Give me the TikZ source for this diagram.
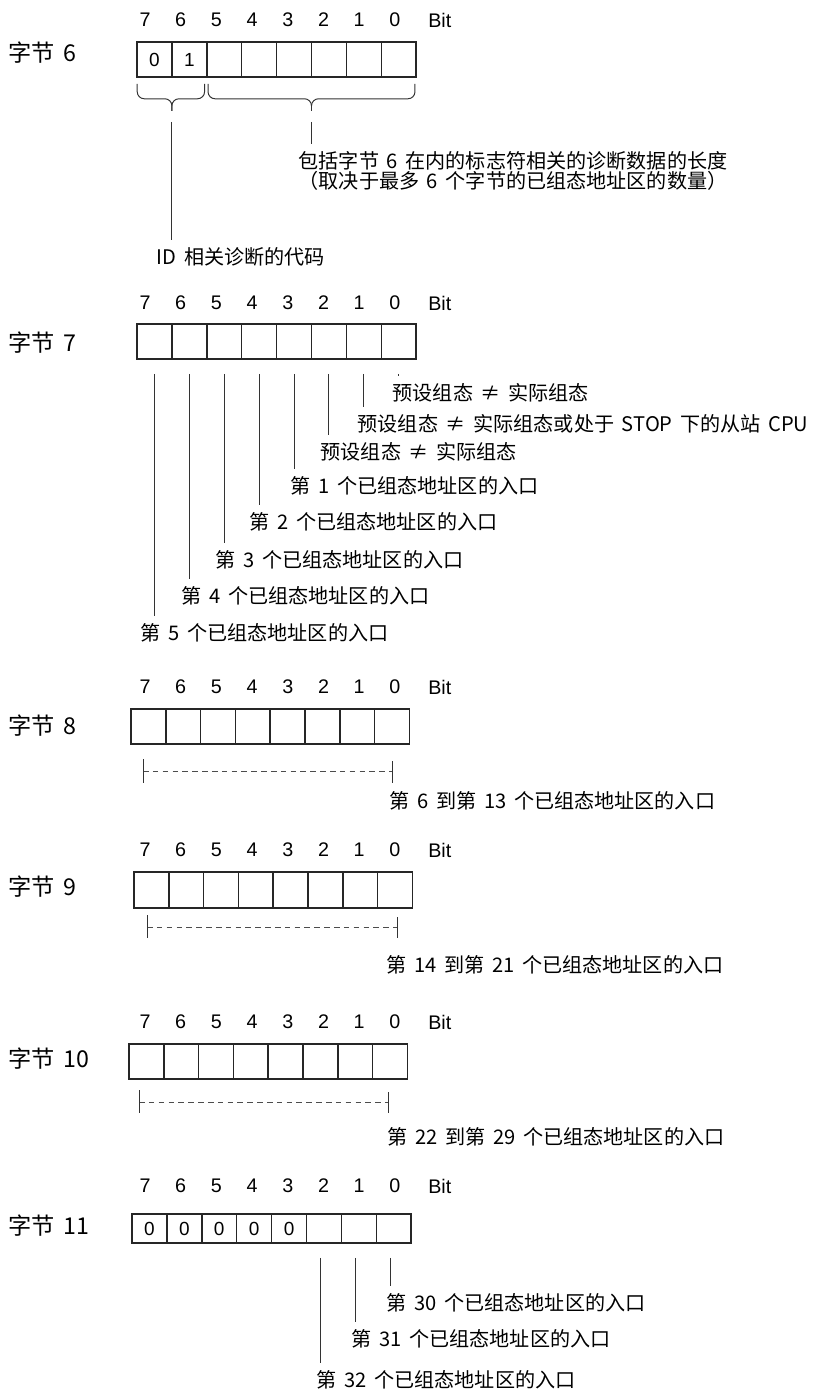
\documentclass[tikz,border=0pt]{standalone}
\usepackage{fontspec}
\setmainfont{Noto Sans CJK SC}[WordSpace=1.7]
\newfontfamily\latinfont{Liberation Sans}
\usetikzlibrary{calc}

\begin{document}
\begin{tikzpicture}[
  x=0.025cm, y=-0.025cm,
  cell/.style   = {draw=black!85, line width=1.1pt, inner sep=0pt,
                   minimum width=0.8725cm, minimum height=0.875cm,
                   font=\latinfont\fontsize{13.5}{14}\selectfont},
  bitno/.style  = {inner sep=0pt, font=\latinfont\fontsize{14}{15}\selectfont},
  bytelbl/.style= {anchor=west, inner sep=0pt, font=\fontsize{16.5}{18}\selectfont},
  note/.style   = {anchor=west, inner sep=1pt, font=\fontsize{14.3}{13.9}\selectfont},
  tick/.style   = {draw=black!80, line width=0.7pt},
  lead/.style   = {tick, shorten >=4pt},
  dim/.style    = {draw=black!70, line width=0.7pt, dash pattern=on 4pt off 3pt},
]
\useasboundingbox (0,0) rectangle (817,1391);

% ========== Byte 6 ==========
\foreach \b [count=\k from 0] in {7,...,0}
  \node[bitno] (r6b\b) at (145+35.7*\k, 20) {\b};
\node[bitno, anchor=west] (r6bit) at (428, 20) {Bit};
\node[bytelbl] (lbl6) at (8, 53) {字节 6};
\foreach \b/\v [count=\k from 0] in {7/0,6/1,5/,4/,3/,2/,1/,0/}
  \node[cell] (c6b\b) at (137+17.45+34.9*\k, 59.5) {\v};

% braces under the cells
\coordinate (tip1) at ($(c6b7.south west)!0.5!(c6b6.south east)+(0,33)$);
\coordinate (tip2) at ($(c6b5.south west)!0.5!(c6b0.south east)+(0,33)$);
\draw[tick, rounded corners=5pt] ($(c6b7.south west)+(1,6)$) |- ($(tip1)+(0,-12)$) -- (tip1);
\draw[tick, rounded corners=5pt] ($(c6b6.south east)+(-3,6)$) |- ($(tip1)+(0,-12)$) -- (tip1);
\draw[tick, rounded corners=5pt] ($(c6b5.south west)+(2,6)$) |- ($(tip2)+(0,-12)$) -- (tip2);
\draw[tick, rounded corners=5pt] ($(c6b0.south east)+(-2,6)$) |- ($(tip2)+(0,-12)$) -- (tip2);

\node[note, align=left, anchor=north west] (len6) at (297, 150)
  {包括字节 6 在内的标志符相关的诊断数据的长度\\（取决于最多 6 个字节的已组态地址区的数量）};
\node[note] (id6) at (155, 257) {ID 相关诊断的代码};
\draw[lead] ($(tip2)+(0,11)$) -- (tip2 |- len6.north);
\draw[lead] ($(tip1)+(0,11)$) -- (tip1 |- id6.north);

% ========== Byte 7 ==========
\foreach \b [count=\k from 0] in {7,...,0}
  \node[bitno] (r7b\b) at (145+35.7*\k, 303) {\b};
\node[bitno, anchor=west] (r7bit) at (428, 303) {Bit};
\node[bytelbl] (lbl7) at (8, 343) {字节 7};
\foreach \b [count=\k from 0] in {7,...,0}
  \node[cell] (c7b\b) at (137+17.45+34.9*\k, 341.5) {};

\node[note] (t7b0) at (391, 393) {预设组态 ≠ 实际组态};
\node[note] (t7b1) at (356, 424) {预设组态 ≠ 实际组态或处于 STOP 下的从站 CPU};
\node[note] (t7b2) at (319, 452) {预设组态 ≠ 实际组态};
\node[note] (t7b3) at (289, 486) {第 1 个已组态地址区的入口};
\node[note] (t7b4) at (248, 522) {第 2 个已组态地址区的入口};
\node[note] (t7b5) at (214, 560) {第 3 个已组态地址区的入口};
\node[note] (t7b6) at (180, 596) {第 4 个已组态地址区的入口};
\node[note] (t7b7) at (139, 633) {第 5 个已组态地址区的入口};
\foreach \b in {0,...,7}
  \draw[lead] ($(c7b\b.south)+(0,14)$) -- (c7b\b.south |- t7b\b.north);

% ========== Byte 8 ==========
\foreach \b [count=\k from 0] in {7,...,0}
  \node[bitno] (r8b\b) at (145+35.7*\k, 687) {\b};
\node[bitno, anchor=west] (r8bit) at (428, 687) {Bit};
\node[bytelbl] (lbl8) at (8, 726) {字节 8};
\foreach \b [count=\k from 0] in {7,...,0}
  \node[cell] (c8b\b) at (131+17.45+34.8*\k, 726.5) {};

\coordinate (d8l) at (143, 771);
\coordinate (d8r) at (392, 771);
\draw[dim] (d8l) -- (d8r);
\draw[tick] ($(d8l)+(0,-12)$) -- ($(d8l)+(0,12)$);
\draw[tick] ($(d8r)+(0,-10)$) -- ($(d8r)+(0,12)$);
\node[note] (t8) at (388, 801) {第 6 到第 13 个已组态地址区的入口};

% ========== Byte 9 ==========
\foreach \b [count=\k from 0] in {7,...,0}
  \node[bitno] (r9b\b) at (145+35.7*\k, 850) {\b};
\node[bitno, anchor=west] (r9bit) at (428, 850) {Bit};
\node[bytelbl] (lbl9) at (8, 887) {字节 9};
\foreach \b [count=\k from 0] in {7,...,0}
  \node[cell, minimum height=0.9cm] (c9b\b) at (134+17.45+34.8*\k, 890) {};

\coordinate (d9l) at (147, 927);
\coordinate (d9r) at (397, 927);
\draw[dim] (d9l) -- (d9r);
\draw[tick] ($(d9l)+(0,-12)$) -- ($(d9l)+(0,11)$);
\draw[tick] ($(d9r)+(0,-10)$) -- ($(d9r)+(0,11)$);
\node[note] (t9) at (385, 965) {第 14 到第 21 个已组态地址区的入口};

% ========== Byte 10 ==========
\foreach \b [count=\k from 0] in {7,...,0}
  \node[bitno] (r10b\b) at (145+35.7*\k, 1022) {\b};
\node[bitno, anchor=west] (r10bit) at (428, 1022) {Bit};
\node[bytelbl] (lbl10) at (8, 1059) {字节 10};
\foreach \b [count=\k from 0] in {7,...,0}
  \node[cell] (c10b\b) at (129+17.45+34.8*\k, 1061.5) {};

\coordinate (d10l) at (139, 1102);
\coordinate (d10r) at (388, 1102);
\draw[dim] (d10l) -- (d10r);
\draw[tick] ($(d10l)+(0,-12)$) -- ($(d10l)+(0,11)$);
\draw[tick] ($(d10r)+(0,-10)$) -- ($(d10r)+(0,11)$);
\node[note] (t10) at (386, 1137) {第 22 到第 29 个已组态地址区的入口};

% ========== Byte 11 ==========
\foreach \b [count=\k from 0] in {7,...,0}
  \node[bitno] (r11b\b) at (145+35.7*\k, 1186) {\b};
\node[bitno, anchor=west] (r11bit) at (428, 1186) {Bit};
\node[bytelbl] (lbl11) at (8, 1226) {字节 11};
\foreach \b/\v [count=\k from 0] in {7/0,6/0,5/0,4/0,3/0,2/,1/,0/}
  \node[cell, minimum height=0.725cm] (c11b\b) at (132+17.45+34.9*\k, 1228.5) {\v};

\node[note] (t11b0) at (385, 1303) {第 30 个已组态地址区的入口};
\node[note] (t11b1) at (350, 1339) {第 31 个已组态地址区的入口};
\node[note] (t11b2) at (315, 1380) {第 32 个已组态地址区的入口};
\foreach \b in {0,1,2}
  \draw[lead] ($(c11b\b.south)+(-3,14)$) -- ($(c11b\b.south |- t11b\b.north)+(-3,0)$);

\end{tikzpicture}
\end{document}
